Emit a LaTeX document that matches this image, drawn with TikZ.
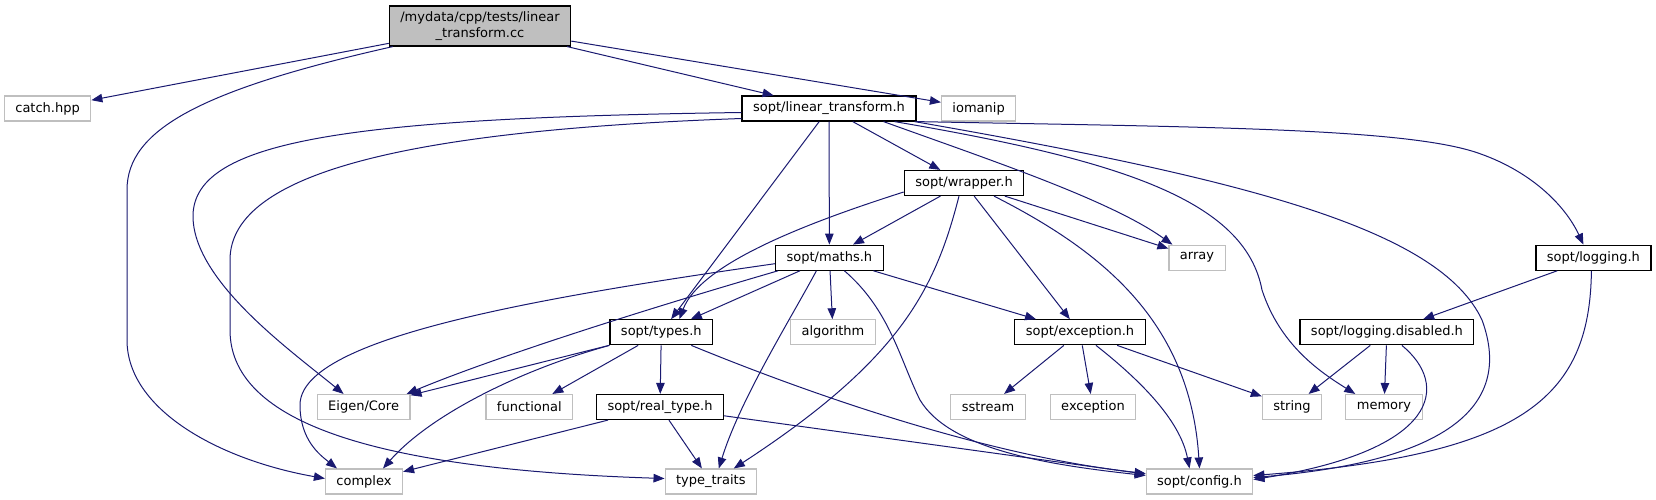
\documentclass[tikz,border=0pt]{standalone}
\usepackage{fontspec}
\setmainfont{DejaVu Sans}
\usepackage{xcolor}
\usepackage{tikz}
\usetikzlibrary{arrows.meta}
\definecolor{edgeblue}{RGB}{25,25,112}
\definecolor{sysgray}{RGB}{191,191,191}
\tikzset{
  srcfile/.style={draw=black, line width=1.2pt, fill=sysgray, align=center,
    minimum height=40pt, inner xsep=11pt, inner ysep=2pt},
  header/.style={draw=black, line width=1.2pt, fill=white,
    minimum height=25pt, inner xsep=11pt, inner ysep=2pt},
  syshdr/.style={draw=sysgray, line width=1.1pt, fill=white,
    minimum height=25pt, inner xsep=11pt, inner ysep=2pt},
  flow/.style={-{Triangle[length=11pt, width=8.5pt]}, line width=1pt, draw=edgeblue}
}

\begin{document}
\begin{tikzpicture}[x=1pt, y=-1pt, font=\fontsize{13}{15.5}\selectfont]
        \useasboundingbox (0,0) rectangle (1656,500);
        \node[srcfile] (root) at (480,26) {/mydata/cpp/tests/linear\\\_transform.cc};
        \node[syshdr] (catchhpp) at (47.6,108.5) {catch.hpp};
        \node[header] (lintrans) at (829,108.5) {sopt/linear\_transform.h};
        \node[syshdr] (iomanip) at (978.6,108.5) {iomanip};
        \node[header] (wrapper) at (964,183) {sopt/wrapper.h};
        \node[header] (maths) at (829.4,257.7) {sopt/maths.h};
        \node[syshdr] (array) at (1197,257.7) {array};
        \node[header] (logging) at (1593.4,257.7) {sopt/logging.h};
        \node[header] (types) at (661.3,332.3) {sopt/types.h};
        \node[syshdr] (algorithm) at (833,332.3) {algorithm};
        \node[header] (except) at (1080,332.3) {sopt/exception.h};
        \node[header] (logdis) at (1386.9,332.3) {sopt/logging.disabled.h};
        \node[syshdr] (eigen) at (363.6,407) {Eigen/Core};
        \node[syshdr] (functional) at (529.3,407) {functional};
        \node[header] (realtype) at (660,407) {sopt/real\_type.h};
        \node[syshdr] (sstream) at (988,407) {sstream};
        \node[syshdr] (stdexcept) at (1093,407) {exception};
        \node[syshdr] (string) at (1292,407) {string};
        \node[syshdr] (memory) at (1384,407) {memory};
        \node[syshdr] (complex) at (364,481.5) {complex};
        \node[syshdr] (typetraits) at (710.8,481.5) {type\_traits};
        \node[syshdr] (config) at (1199.5,481.5) {sopt/config.h};

        \draw[flow] (root) -- (catchhpp);
        \draw[flow] ([xshift=4pt]root.south west) .. controls (200,90) and (127,130) .. (127,190) -- (127,340)
          .. controls (127,410) and (220,460) .. ([yshift=3pt]complex.west);
        \draw[flow] (root) -- (lintrans);
        \draw[flow] (root) -- (iomanip);

        \draw[flow] ([yshift=-4pt]lintrans.west) .. controls (350,118) and (195,140) .. (193,215)
          .. controls (192,280) and (290,350) .. ([xshift=-20pt]eigen.north);
        \draw[flow] ([yshift=-10pt]lintrans.west) .. controls (420,130) and (230,170) .. (230,260) -- (230,330)
          .. controls (230,430) and (400,470) .. ([yshift=3pt]typetraits.west);
        \draw[flow] (lintrans) -- (types);
        \draw[flow] (lintrans) -- (maths);
        \draw[flow] (lintrans) -- (wrapper);
        \draw[flow] ([xshift=-33pt]lintrans.south east) .. controls (990,160) and (1110,200) .. ([xshift=4pt]array.north west);
        \draw[flow] ([xshift=-22pt]lintrans.south east) .. controls (1120,160) and (1245,200) .. (1262,290)
          .. controls (1280,345) and (1320,372) .. ([xshift=10pt]memory.north west);
        \draw[flow] ([xshift=-2pt]lintrans.south east) .. controls (1250,180) and (1440,230) .. (1482,320)
          .. controls (1515,410) and (1440,462) .. ([yshift=4pt]config.east);
        \draw[flow] (lintrans.south east) .. controls (1200,127) and (1400,128) .. (1475,152)
          .. controls (1530,170) and (1565,205) .. ([xshift=-10pt]logging.north);

        \draw[flow] ([yshift=-9pt]wrapper.west) .. controls (800,225) and (700,265) .. ([xshift=18pt]types.north);
        \draw[flow] (wrapper) -- (maths);
        \draw[flow] ([xshift=-5pt]wrapper.south) .. controls (935,290) and (900,360) .. ([xshift=23pt]typetraits.north);
        \draw[flow] (wrapper) -- (except);
        \draw[flow] ([xshift=30pt]wrapper.south) .. controls (1100,250) and (1190,320) .. (config.north);
        \draw[flow] (wrapper) -- (array);

        \draw[flow] ([yshift=-6pt]maths.west) .. controls (520,300) and (300,340) .. (300,405)
          .. controls (300,440) and (320,455) .. ([xshift=-27pt]complex.north);
        \draw[flow] ([xshift=3pt]maths.south west) .. controls (660,305) and (500,355) .. ([xshift=-4pt]eigen.north east);
        \draw[flow] (maths) -- (types);
        \draw[flow] ([xshift=-13pt]maths.south) .. controls (790,320) and (740,400) .. ([xshift=8pt]typetraits.north);
        \draw[flow] (maths) -- (algorithm);
        \draw[flow] ([xshift=15pt]maths.south) .. controls (890,310) and (900,360) .. (920,400)
          .. controls (950,450) and (1050,465) .. ([yshift=6pt]config.west);
        \draw[flow] (maths) -- (except);

        \draw[flow] (types) -- (eigen);
        \draw[flow] (types.south west) .. controls (520,370) and (430,415) .. ([xshift=19pt]complex.north);
        \draw[flow] (types) -- (functional);
        \draw[flow] (types) -- (realtype);
        \draw[flow] ([xshift=30pt]types.south) .. controls (800,390) and (980,455) .. ([yshift=8pt]config.west);

        \draw[flow] (realtype) -- (complex);
        \draw[flow] (realtype) -- (typetraits);
        \draw[flow] (realtype) -- (config);

        \draw[flow] (except) -- (sstream);
        \draw[flow] (except) -- (stdexcept);
        \draw[flow] ([xshift=16pt]except.south) .. controls (1140,380) and (1180,420) .. ([xshift=-10pt]config.north);
        \draw[flow] (except) -- (string);

        \draw[flow] (logging) -- (logdis);
        \draw[flow] ([xshift=-2pt]logging.south) .. controls (1590,400) and (1520,455) .. ([yshift=6pt]config.east);
        \draw[flow] (logdis) -- (string);
        \draw[flow] (logdis) -- (memory);
        \draw[flow] ([xshift=15pt]logdis.south) .. controls (1450,385) and (1440,450) .. ([yshift=2pt]config.east);
    \end{tikzpicture}
\end{document}
